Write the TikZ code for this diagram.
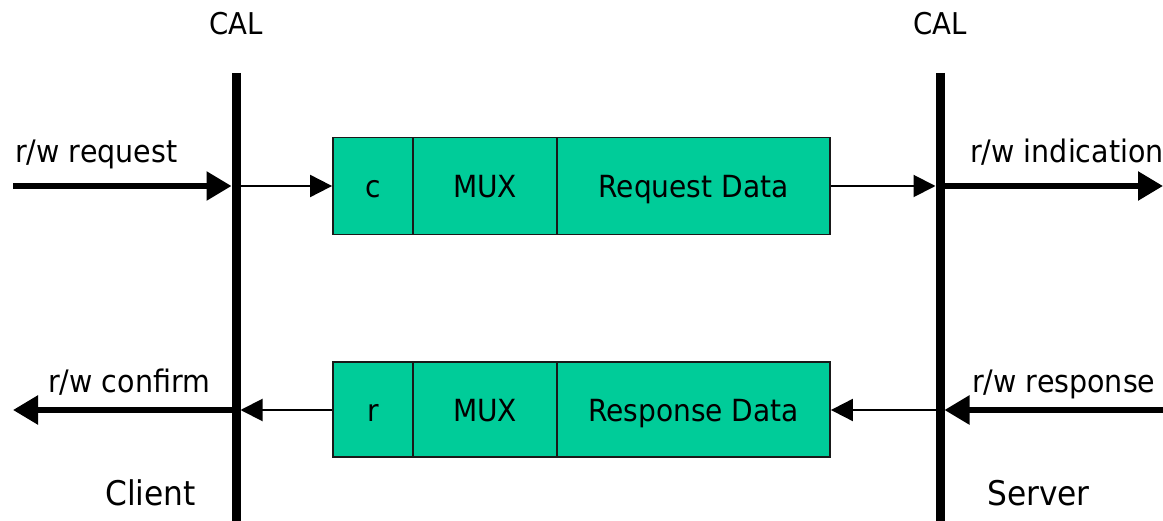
\documentclass[tikz,border=0pt]{standalone}
\usepackage{fontspec}
\setmainfont{DejaVu Sans}[FakeStretch=0.92]
\usetikzlibrary{arrows.meta}
\definecolor{boxgreen}{RGB}{0,204,153}
\begin{document}
\begin{tikzpicture}[x=1pt,y=-1pt,
  txt/.style={font=\fontsize{31}{36}\selectfont, inner sep=0pt},
  caltxt/.style={font=\fontsize{30}{36}\selectfont, inner sep=0pt},
  bigtxt/.style={font=\fontsize{34}{40}\selectfont, inner sep=0pt},
  seg/.style={draw=black!90, line width=1.8pt, fill=boxgreen, inner sep=0pt,
    font=\fontsize{30.5}{36}\selectfont, text height=24pt, text depth=0pt},
  toprow/.style={seg, minimum height=97pt},
  botrow/.style={seg, minimum height=95pt},
  sap/.style={line width=9pt},
  thick arrow/.style={line width=5.5pt, -{Triangle[length=25pt,width=28pt]}},
  thin arrow/.style={line width=2pt, -{Triangle[length=22pt,width=22pt]}}
]
\useasboundingbox (0,0) rectangle (1163,521);

% service access points (CAL)
\coordinate (clT) at (236,73);
\coordinate (clB) at (236,521);
\coordinate (crT) at (940,73);
\coordinate (crB) at (940,521);
\draw[sap] (clT) -- (clB);
\draw[sap] (crT) -- (crB);
\node[caltxt, anchor=base] (calL) at (236,35) {CAL};
\node[caltxt, anchor=base] (calR) at (940,35) {CAL};

% request PDU
\node[toprow, minimum width=80pt]  (reqC)   at (373,186)   {c};
\node[toprow, minimum width=144pt] (reqMux) at (485,186)   {MUX};
\node[toprow, minimum width=273pt] (reqDat) at (693.5,186) {Request Data};

% response PDU
\node[botrow, minimum width=80pt]  (resR)   at (373,409.5)   {r};
\node[botrow, minimum width=144pt] (resMux) at (485,409.5)   {MUX};
\node[botrow, minimum width=273pt] (resDat) at (693.5,409.5) {Response Data};

% connector end points
\coordinate (reqIn)   at (13,186);
\coordinate (clReq)   at (236,186);
\coordinate (crReq)   at (940,186);
\coordinate (indOut)  at (1163,186);
\coordinate (respIn)  at (1163,410);
\coordinate (crResp)  at (940,410);
\coordinate (clResp)  at (236,410);
\coordinate (confOut) at (13,410);

% request path
\draw[thick arrow, shorten >=4.5pt] (reqIn) -- (clReq);
\draw[thin arrow, shorten <=4.5pt] (clReq) -- (reqC.west);
\draw[thin arrow, shorten >=4.5pt] (reqDat.east) -- (crReq);
\draw[thick arrow, shorten <=4.5pt] (crReq) -- (indOut);

% response path
\draw[thick arrow, shorten >=4.5pt] (respIn) -- (crResp);
\draw[thin arrow, shorten <=4.5pt] (crResp) -- (resDat.east |- crResp);
\draw[thin arrow, shorten >=4.5pt] (resR.west |- clResp) -- (clResp);
\draw[thick arrow, shorten <=4.5pt] (clResp) -- (confOut);

% primitive labels
\node[txt, anchor=base west] (lReq)  at (15,163)  {r/w request};
\node[txt, anchor=base west] (lInd)  at (970,163) {r/w indication};
\node[txt, anchor=base west] (lConf) at (48,393)  {r/w confirm};
\node[txt, anchor=base west] (lResp) at (972,393) {r/w response};

% roles
\node[bigtxt, anchor=base west] (client) at (105,505) {Client};
\node[bigtxt, anchor=base west] (server) at (987,505) {Server};
\end{tikzpicture}
\end{document}
